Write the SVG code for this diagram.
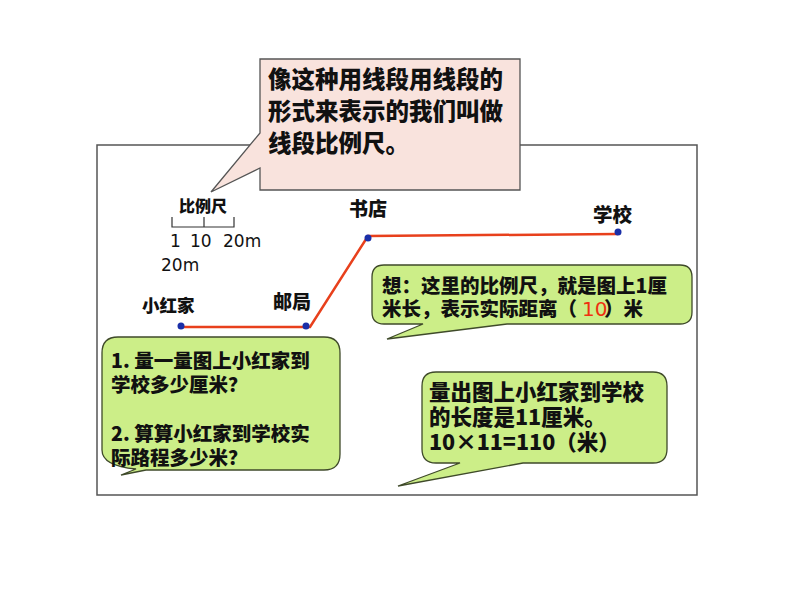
<svg xmlns="http://www.w3.org/2000/svg" width="794" height="596" viewBox="0 0 794 596">
<style>
.cn{font-family:"Noto Sans CJK SC","Liberation Sans",sans-serif;font-weight:900;fill:#111}
.num{font-family:"DejaVu Sans","Liberation Sans",sans-serif;fill:#111}
.red{font-family:"DejaVu Sans","Liberation Sans",sans-serif;fill:#F03010}
.green{fill:#CCEE88;stroke:#3f4a2a;stroke-width:1.3}
.pink{fill:#F9E3DD;stroke:#555;stroke-width:1.3}
.dot{fill:#1a2fa8}
</style>
<rect width="794" height="596" fill="#fff"/>
<g id="frame"><rect x="97" y="145" width="600" height="350" fill="none" stroke="#555" stroke-width="1.5"/></g>

<g id="connectors">
<polyline points="181,327 310,327 368,236 618,234" fill="none" stroke="#E8401C" stroke-width="2.5"/>
</g>

<g id="callout-top">
<path class="pink" d="M260,59 H520 V190 H260 V168 L211,192 L260,133 Z"/>
<text class="cn" x="268" y="88" font-size="23.5">像这种用线段用线段的</text>
<text class="cn" x="268" y="120" font-size="23.5">形式来表示的我们叫做</text>
<text class="cn" x="268" y="152" font-size="23.5">线段比例尺。</text>
</g>

<g id="scale">
<text class="cn" x="179" y="212" font-size="16">比例尺</text>
<path d="M172,217 V227 H234 V217 M204,217 V227" fill="none" stroke="#333" stroke-width="1.2"/>
<text class="num" x="170" y="247" font-size="17">1</text>
<text class="num" x="190" y="247" font-size="17">10</text>
<text class="num" x="223" y="247" font-size="17">20m</text>
<text class="num" x="161" y="271" font-size="17">20m</text>
</g>

<g id="home">
<circle class="dot" cx="181" cy="326" r="3.5"/>
<text class="cn" x="142" y="312" font-size="17.5">小红家</text>
</g>
<g id="post">
<circle class="dot" cx="306" cy="326" r="3.5"/>
<text class="cn" x="273" y="309" font-size="19">邮局</text>
</g>
<g id="bookstore">
<circle class="dot" cx="368" cy="238" r="3.5"/>
<text class="cn" x="349" y="216" font-size="19">书店</text>
</g>
<g id="school">
<circle class="dot" cx="618" cy="232" r="3.5"/>
<text class="cn" x="593" y="222" font-size="19.5">学校</text>
</g>

<g id="callout-think">
<path class="green" d="M384,265 H680 Q692,265 692,277 V312 Q692,324 680,324 H507 L387,339 L423,324 H384 Q372,324 372,312 V277 Q372,265 384,265 Z"/>
<text class="cn" x="382" y="293" font-size="19.5">想：这里的比例尺，就是图上1厘</text>
<text class="cn" x="382" y="316" font-size="19.5">米长，表示实际距离（</text>
<text class="red" x="582" y="316" font-size="20">10</text>
<text class="cn" x="604" y="316" font-size="19.5">）米</text>
</g>

<g id="callout-questions">
<path class="green" d="M118,337 H324 Q340,337 340,353 V454 Q340,470 324,470 H146 L121,475 L136,469 Q102,466 102,450 V353 Q102,337 118,337 Z"/>
<text class="cn" x="111" y="368" font-size="19.5">1. 量一量图上小红家到</text>
<text class="cn" x="111" y="392" font-size="19.5">学校多少厘米？</text>
<text class="cn" x="111" y="441" font-size="19.5">2. 算算小红家到学校实</text>
<text class="cn" x="111" y="465" font-size="19.5">际路程多少米？</text>
</g>

<g id="callout-answer">
<path class="green" d="M436,372 H653 Q667,372 667,386 V449 Q667,463 653,463 H523 L398,486 L460,463 H436 Q422,463 422,449 V386 Q422,372 436,372 Z"/>
<text class="cn" x="429" y="400" font-size="21.5">量出图上小红家到学校</text>
<text class="cn" x="429" y="425" font-size="21.5">的长度是11厘米。</text>
<text class="cn" x="429" y="450" font-size="21.5">10×11=110（米）</text>
</g>
</svg>
